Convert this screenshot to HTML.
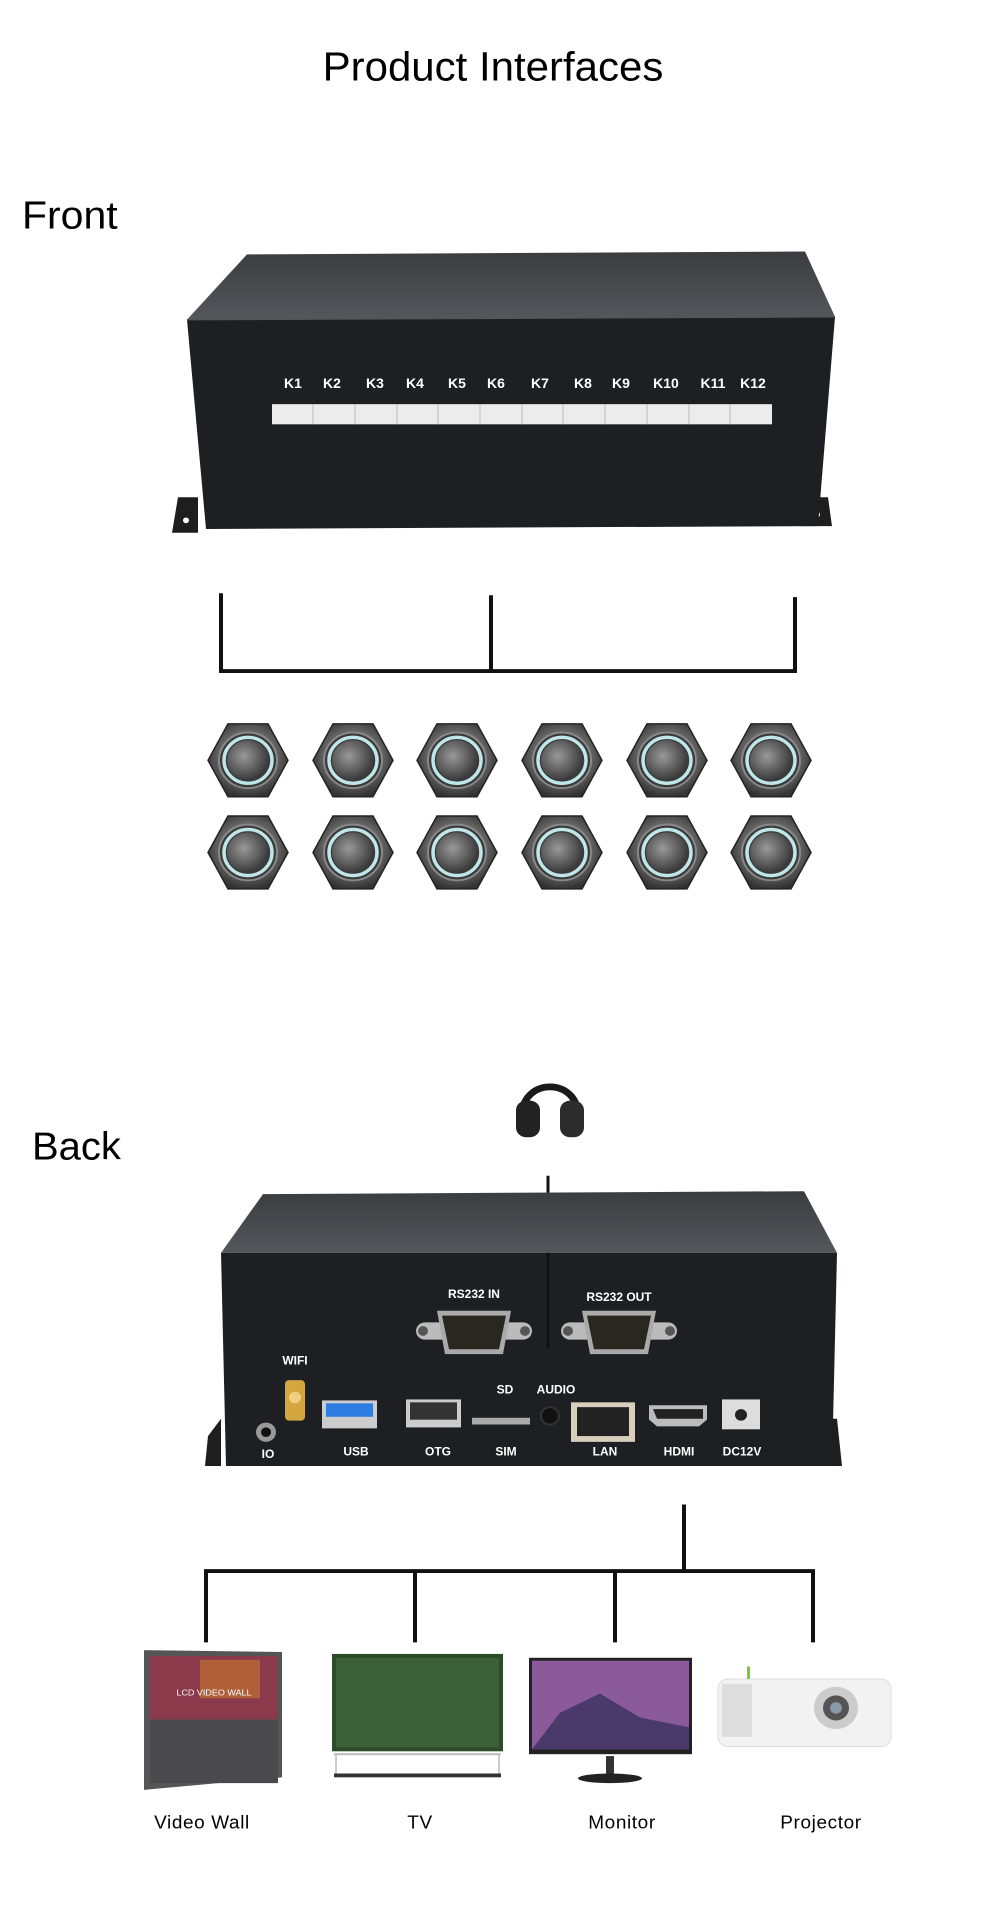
<!DOCTYPE html>
<html><head><meta charset="utf-8"><style>
html,body{margin:0;padding:0;background:#fff}
svg{display:block}
text{font-family:"Liberation Sans",sans-serif}
</style></head><body>
<svg width="1000" height="1924" viewBox="0 0 1000 1924" xmlns="http://www.w3.org/2000/svg">
<defs>
<radialGradient id="btn" cx="50%" cy="45%" r="55%"><stop offset="0" stop-color="#b0b0b0"/><stop offset="0.6" stop-color="#6c6c6c"/><stop offset="1" stop-color="#333"/></radialGradient>
<radialGradient id="cap" cx="40%" cy="40%" r="60%"><stop offset="0" stop-color="#999"/><stop offset="1" stop-color="#3a3a3a"/></radialGradient>
<linearGradient id="top" x1="0" y1="0" x2="0" y2="1"><stop offset="0" stop-color="#3a3c40"/><stop offset="1" stop-color="#55575c"/></linearGradient>
<symbol id="button" viewBox="-42 -42 84 84">
<polygon points="-20,-38 20,-38 40,0 20,38 -20,38 -40,0" fill="url(#btn)" stroke="#222" stroke-width="1.5"/>
<circle r="29" fill="#3a3a3a" stroke="#888" stroke-width="2"/>
<circle r="24" fill="none" stroke="#bfe6e8" stroke-width="3.5"/>
<circle r="21" fill="url(#cap)"/>
</symbol>
</defs>
<g transform="scale(1,0.96)">
<text x="493" y="84" font-size="42" text-anchor="middle" fill="#000">Product Interfaces</text>
<text x="22" y="238" font-size="41" fill="#000">Front</text>

<polygon points="178,518 198,518 198,555 172,555" fill="#1e1e1e"/>
<circle cx="186" cy="542" r="3" fill="#fff"/>
<polygon points="812,518 828,518 832,548 800,548" fill="#1e1e1e"/>
<circle cx="817" cy="536" r="3" fill="#fff"/>
<polygon points="247,265 805,262 835,330 187,333" fill="url(#top)"/>
<polygon points="187,333 835,330 818,548 206,551" fill="#1d1f23"/>
<line x1="187" y1="333" x2="835" y2="330" stroke="#555" stroke-width="1.5"/>
<g font-size="14" font-weight="bold" fill="#fff" text-anchor="middle">
<text x="293" y="404">K1</text><text x="332" y="404">K2</text><text x="375" y="404">K3</text><text x="415" y="404">K4</text><text x="457" y="404">K5</text><text x="496" y="404">K6</text><text x="540" y="404">K7</text><text x="583" y="404">K8</text><text x="621" y="404">K9</text><text x="666" y="404">K10</text><text x="713" y="404">K11</text><text x="753" y="404">K12</text>
</g>
<rect x="272" y="421" width="500" height="21" fill="#ececec"/>
<g stroke="#bbb" stroke-width="1"><line x1="313" y1="421" x2="313" y2="442"/><line x1="355" y1="421" x2="355" y2="442"/><line x1="397" y1="421" x2="397" y2="442"/><line x1="438" y1="421" x2="438" y2="442"/><line x1="480" y1="421" x2="480" y2="442"/><line x1="522" y1="421" x2="522" y2="442"/><line x1="563" y1="421" x2="563" y2="442"/><line x1="605" y1="421" x2="605" y2="442"/><line x1="647" y1="421" x2="647" y2="442"/><line x1="689" y1="421" x2="689" y2="442"/><line x1="730" y1="421" x2="730" y2="442"/></g>

<g stroke="#111" stroke-width="4" fill="none">
<polyline points="221,618 221,699 795,699 795,622"/>
<line x1="491" y1="620" x2="491" y2="699"/>
</g>

<g transform="translate(0,-3)">
<use href="#button" x="206" y="753" width="84" height="84"/><use href="#button" x="311" y="753" width="84" height="84"/><use href="#button" x="415" y="753" width="84" height="84"/><use href="#button" x="520" y="753" width="84" height="84"/><use href="#button" x="625" y="753" width="84" height="84"/><use href="#button" x="729" y="753" width="84" height="84"/>
<use href="#button" x="206" y="849" width="84" height="84"/><use href="#button" x="311" y="849" width="84" height="84"/><use href="#button" x="415" y="849" width="84" height="84"/><use href="#button" x="520" y="849" width="84" height="84"/><use href="#button" x="625" y="849" width="84" height="84"/><use href="#button" x="729" y="849" width="84" height="84"/>
</g>
</g>

<g transform="translate(0,956) scale(1,0.964) translate(0,-960)">
<text x="32" y="1171" font-size="40" fill="#000">Back</text>
<g>
<path d="M522,1128 C520,1085 580,1085 578,1128" fill="none" stroke="#1a1a1a" stroke-width="7"/>
<rect x="516" y="1110" width="24" height="38" rx="10" fill="#222"/>
<rect x="560" y="1110" width="24" height="38" rx="10" fill="#2c2c2c"/>
</g>
<line x1="548" y1="1188" x2="548" y2="1367" stroke="#111" stroke-width="3"/>

<polygon points="208,1458 221,1440 221,1489 205,1489" fill="#1e1e1e"/>
<polygon points="837,1440 842,1489 820,1489 820,1440" fill="#1e1e1e"/>
<polygon points="263,1207 804,1204 837,1268 221,1268" fill="url(#top)"/>
<polygon points="221,1268 837,1268 832,1489 226,1489" fill="#1d1f23"/>
<line x1="548" y1="1268" x2="548" y2="1367" stroke="#111" stroke-width="3"/>
<g font-size="12" font-weight="bold" fill="#fff" text-anchor="middle">
<text x="474" y="1315">RS232 IN</text><text x="619" y="1318">RS232 OUT</text>
<text x="295" y="1384">WIFI</text><text x="505" y="1414">SD</text><text x="556" y="1414">AUDIO</text>
<text x="268" y="1481">IO</text><text x="356" y="1478">USB</text><text x="438" y="1478">OTG</text><text x="506" y="1478">SIM</text><text x="605" y="1478">LAN</text><text x="679" y="1478">HDMI</text><text x="742" y="1478">DC12V</text>
</g>
<g>
<rect x="416" y="1340" width="116" height="18" rx="9" fill="#bbb"/>
<circle cx="423" cy="1349" r="5" fill="#555"/><circle cx="525" cy="1349" r="5" fill="#555"/>
<path d="M437,1328 L511,1328 L503,1373 L445,1373 Z" fill="#aaa"/>
<path d="M442,1333 L506,1333 L499,1368 L449,1368 Z" fill="#2a2620"/>
<rect x="561" y="1340" width="116" height="18" rx="9" fill="#bbb"/>
<circle cx="568" cy="1349" r="5" fill="#555"/><circle cx="670" cy="1349" r="5" fill="#555"/>
<path d="M582,1328 L656,1328 L648,1373 L590,1373 Z" fill="#aaa"/>
<path d="M587,1333 L651,1333 L644,1368 L594,1368 Z" fill="#2a2620"/>
</g>
<rect x="285" y="1400" width="20" height="42" rx="4" fill="#d4a640"/>
<circle cx="295" cy="1418" r="6" fill="#f0d080"/>
<circle cx="266" cy="1454" r="10" fill="#999"/><circle cx="266" cy="1454" r="5" fill="#111"/>
<rect x="322" y="1421" width="55" height="29" fill="#ccc"/><rect x="326" y="1424" width="47" height="14" fill="#2f7de0"/>
<rect x="406" y="1420" width="55" height="29" fill="#ccc"/><rect x="410" y="1423" width="47" height="18" fill="#333"/>
<rect x="472" y="1439" width="58" height="7" fill="#aaa"/>
<circle cx="550" cy="1437" r="9" fill="#111" stroke="#333" stroke-width="2"/>
<rect x="571" y="1423" width="64" height="41" fill="#d8d0bc"/><rect x="577" y="1428" width="52" height="30" fill="#222"/>
<path d="M649,1426 L707,1426 L707,1441 L699,1448 L657,1448 L649,1441 Z" fill="#bbb"/><path d="M653,1430 L703,1430 L703,1440 L657,1440 Z" fill="#222"/>
<rect x="722" y="1420" width="38" height="31" fill="#ddd"/><circle cx="741" cy="1436" r="6" fill="#222"/>

<g stroke="#111" stroke-width="4" fill="none">
<line x1="684" y1="1529" x2="684" y2="1598"/>
<polyline points="206,1672 206,1598 813,1598 813,1672"/>
<line x1="415" y1="1598" x2="415" y2="1672"/>
<line x1="615" y1="1598" x2="615" y2="1672"/>
</g>
<polygon points="144,1680 282,1682 282,1812 144,1825" fill="#555"/>
<rect x="150" y="1686" width="128" height="66" fill="#8a3a4a"/>
<rect x="200" y="1690" width="60" height="40" fill="#c07030" opacity="0.7"/>
<text x="214" y="1727" font-size="9" fill="#fff" text-anchor="middle">LCD VIDEO WALL</text>
<rect x="150" y="1752" width="128" height="66" fill="#4a4a4e"/>
<rect x="332" y="1684" width="171" height="101" fill="#2d4a2a"/>
<rect x="336" y="1688" width="163" height="93" fill="#3c6138"/>
<rect x="334" y="1787" width="167" height="2" fill="#bbb"/>
<rect x="334" y="1808" width="167" height="4" fill="#333"/>
<line x1="336" y1="1789" x2="336" y2="1808" stroke="#999"/><line x1="499" y1="1789" x2="499" y2="1808" stroke="#999"/>
<rect x="529" y="1688" width="163" height="100" fill="#222"/>
<rect x="532" y="1691" width="157" height="92" fill="#8a5a9a"/>
<polygon points="532,1783 560,1745 600,1725 640,1750 689,1760 689,1783" fill="#4a3a6a"/>
<rect x="606" y="1790" width="8" height="20" fill="#333"/>
<ellipse cx="610" cy="1813" rx="32" ry="5" fill="#222"/>
<rect x="718" y="1710" width="173" height="70" rx="10" fill="#f2f2f2" stroke="#ddd"/>
<rect x="722" y="1715" width="30" height="55" fill="#ddd"/>
<circle cx="836" cy="1740" r="22" fill="#ccc"/><circle cx="836" cy="1740" r="13" fill="#555"/><circle cx="836" cy="1740" r="6" fill="#8899aa"/>
<rect x="747" y="1697" width="3" height="13" fill="#7c3"/>
<g font-size="19" fill="#000" text-anchor="middle" letter-spacing="0.6">
<text x="202" y="1865">Video Wall</text><text x="420" y="1865">TV</text><text x="622" y="1865">Monitor</text><text x="821" y="1865">Projector</text>
</g>
</g>
</svg>
</body></html>
